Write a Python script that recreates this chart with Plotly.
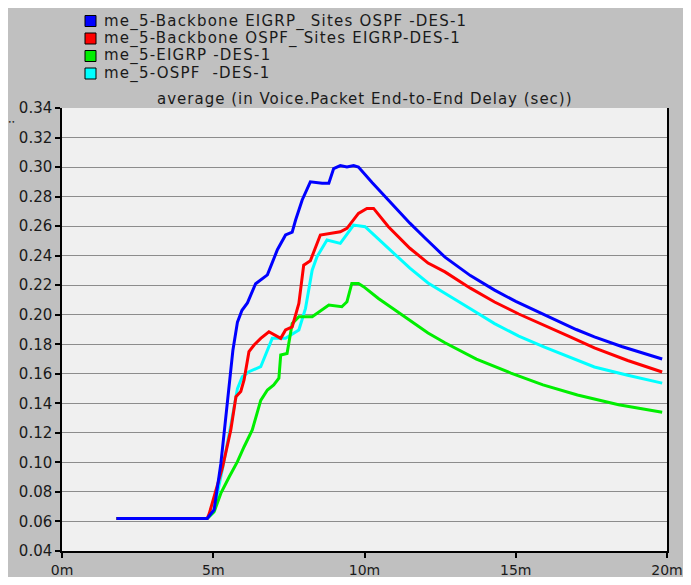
import plotly.graph_objects as go

# ---- data (time in minutes, delay in seconds) ----
t_blue = [1.8, 4.8, 5.03, 5.25, 5.36, 5.47, 5.53, 5.65, 5.8, 5.95, 6.13, 6.4, 6.79, 6.9, 7.12,
          7.39, 7.61, 7.72, 7.94, 8.21, 8.6, 8.82, 8.98, 9.2, 9.42, 9.64, 9.8, 10.25, 10.79,
          11.5, 12.0, 12.66, 13.5, 14.3, 15.0, 15.95, 17.0, 17.6, 18.5, 19.84]
y_blue = [0.062, 0.062, 0.068, 0.099, 0.120, 0.142, 0.156, 0.176, 0.195, 0.203, 0.208, 0.221,
          0.227, 0.2325, 0.244, 0.254, 0.256, 0.264, 0.2777, 0.290, 0.289, 0.289, 0.299, 0.301,
          0.300, 0.301, 0.300, 0.2895, 0.2777, 0.262, 0.252, 0.239, 0.2265, 0.2167, 0.209,
          0.200, 0.190, 0.185, 0.1785, 0.170]

t_red = [1.8, 4.8, 4.87, 5.09, 5.31, 5.58, 5.75, 5.91, 6.02, 6.18, 6.35, 6.57, 6.84, 7.23, 7.39,
         7.61, 7.83, 7.99, 8.21, 8.54, 8.82, 9.2, 9.42, 9.8, 10.08, 10.3, 10.79, 11.5, 12.1,
         12.66, 13.5, 14.3, 15.1, 15.95, 16.8, 17.6, 18.7, 19.84]
y_red = [0.062, 0.062, 0.0655, 0.081, 0.097, 0.122, 0.1445, 0.148, 0.156, 0.175, 0.1795, 0.184,
         0.1885, 0.184, 0.1897, 0.1918, 0.2077, 0.2336, 0.2365, 0.254, 0.255, 0.2562, 0.2585,
         0.2686, 0.272, 0.272, 0.2596, 0.245, 0.235, 0.229, 0.218, 0.2086, 0.2005, 0.193,
         0.185, 0.1775, 0.169, 0.1612]

t_green = [1.8, 4.8, 5.03, 5.25, 5.53, 5.8, 6.02, 6.29, 6.57, 6.79, 7.0, 7.17, 7.23, 7.44, 7.61,
           7.83, 8.27, 8.6, 8.82, 9.25, 9.42, 9.58, 9.8, 9.97, 10.46, 11.02, 12.1, 12.66, 13.7,
           14.84, 15.9, 17.04, 18.4, 19.84]
y_green = [0.062, 0.062, 0.0666, 0.079, 0.0903, 0.1005, 0.1106, 0.122, 0.142, 0.149, 0.1524,
           0.157, 0.1727, 0.1738, 0.194, 0.1986, 0.1986, 0.2032, 0.2066, 0.2054, 0.2088, 0.2212,
           0.2212, 0.219, 0.211, 0.203, 0.1876, 0.181, 0.170, 0.1605, 0.1525, 0.1456, 0.139,
           0.134]

t_cyan = [1.8, 4.8, 5.0, 5.3, 5.58, 5.8, 5.96, 6.18, 6.57, 6.95, 7.39, 7.83, 8.05, 8.27, 8.43,
          8.76, 9.2, 9.64, 10.02, 10.79, 11.5, 12.1, 12.66, 13.5, 14.3, 15.1, 15.95, 16.8, 17.6,
          18.7, 19.84]
y_cyan = [0.062, 0.062, 0.066, 0.095, 0.125, 0.150, 0.158, 0.1614, 0.1648, 0.184, 0.184, 0.1897,
          0.2043, 0.2302, 0.2393, 0.2506, 0.2483, 0.2607, 0.2596, 0.245, 0.2315, 0.2215, 0.2147,
          0.204, 0.194, 0.1855, 0.178, 0.171, 0.1646, 0.159, 0.1537]

names = ["me_5-Backbone EIGRP_ Sites OSPF -DES-1",
         "me_5-Backbone OSPF_ Sites EIGRP-DES-1",
         "me_5-EIGRP -DES-1",
         "me_5-OSPF  -DES-1"]
colors = ["#0000ff", "#ff0000", "#00ee00", "#00ffff"]

x_tick_vals = [0, 5, 10, 15, 20]
x_tick_text = ["0m", "5m", "10m", "15m", "20m"]
y_tick_vals = [0.04, 0.06, 0.08, 0.10, 0.12, 0.14, 0.16, 0.18, 0.20, 0.22, 0.24, 0.26, 0.28,
               0.30, 0.32, 0.34]
title_text = "average (in Voice.Packet End-to-End Delay (sec))"

FONT = "DejaVu Sans"
TXT = "#1a1a1a"

series = {
    0: (t_blue, y_blue),
    1: (t_red, y_red),
    2: (t_green, y_green),
    3: (t_cyan, y_cyan),
}

fig = go.Figure()

# data lines (drawing order: cyan, green, red, blue on top)
for i in [3, 2, 1, 0]:
    t, y = series[i]
    fig.add_trace(go.Scatter(x=t, y=y, mode="lines", name=names[i],
                             line=dict(color=colors[i], width=3),
                             showlegend=False, hoverinfo="x+y+name"))

# Page geometry: the figure div sits at (8, 8) in the page (default body margin)
# and must fit inside the 691x585 window together with the body margins.
OFF = 8
W, H = 675, 569
P_L, P_R, P_T, P_B = 62, 667, 108, 551          # plot area in page pixels
L, T = P_L - OFF, P_T - OFF
R = W - (P_R - OFF)
B = H - (P_B - OFF)
pw, ph = P_R - P_L, P_B - P_T


def px(xp):
    return (xp - P_L) / pw


def py(yp):
    return (P_B - yp) / ph


def spaced(s, ls):
    return '<span style="letter-spacing:%.1fpx">%s</span>' % (ls, s)


shapes = []
annotations = []

# legend (swatches + labels)
row_y = [21, 38.5, 56, 73.5]
for i in range(4):
    yc = row_y[i]
    shapes.append(dict(type="rect", xref="paper", yref="paper",
                       x0=px(85), x1=px(96), y0=py(yc + 5.5), y1=py(yc - 5.5),
                       fillcolor=colors[i], line=dict(color="black", width=1)))
    annotations.append(dict(text=spaced(names[i], 1.2), xref="paper", yref="paper",
                            x=px(102), y=py(yc), xanchor="left", yanchor="middle",
                            showarrow=False,
                            font=dict(family=FONT, size=15, color=TXT)))

# chart title
annotations.append(dict(text=spaced(title_text, 1.0), xref="paper", yref="paper",
                        x=px(365), y=py(99), xanchor="center", yanchor="middle",
                        showarrow=False, font=dict(family=FONT, size=15, color=TXT)))
# small marker at top-left of the axis
annotations.append(dict(text="••", xref="paper", yref="paper",
                        x=px(11), y=py(122), xanchor="center", yanchor="middle",
                        showarrow=False, font=dict(family=FONT, size=6, color="#222222")))

fig.update_layout(
    width=W, height=H,
    margin=dict(l=L, r=R, t=T, b=B, pad=0, autoexpand=False),
    paper_bgcolor="#c0c0c0",
    plot_bgcolor="#f0f0f0",
    font=dict(family=FONT, size=15, color=TXT),
    showlegend=False,
    xaxis=dict(range=[0, 20], tickvals=x_tick_vals, ticktext=x_tick_text,
               automargin=False,
               showgrid=False, zeroline=False,
               showline=True, linecolor="black", linewidth=1.5,
               ticks="outside", ticklen=5, tickcolor="black", tickwidth=1.5,
               tickfont=dict(family=FONT, size=14, color=TXT)),
    yaxis=dict(range=[0.04, 0.34], tickvals=y_tick_vals, tickformat=".2f",
               automargin=False,
               showgrid=True, gridcolor="#8c8c8c", gridwidth=1.3,
               zeroline=False,
               showline=True, linecolor="black", linewidth=1.5, mirror=True,
               ticks="outside", ticklen=5, tickcolor="black", tickwidth=1.5,
               tickfont=dict(family=FONT, size=15, color=TXT)),
    shapes=shapes,
    annotations=annotations,
)

fig.write_html("out.html")
